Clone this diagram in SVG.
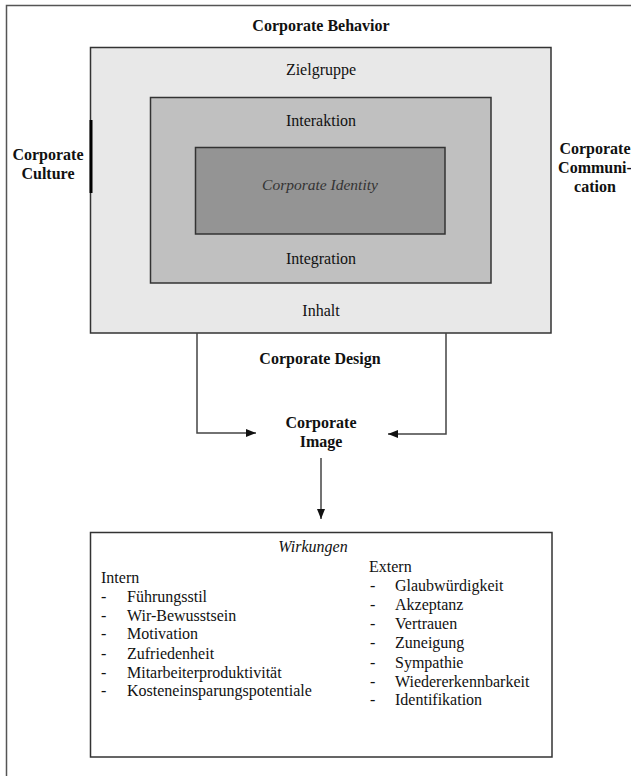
<svg xmlns="http://www.w3.org/2000/svg" width="631" height="776" viewBox="0 0 631 776">
<style>
text{font-family:"Liberation Serif","Times New Roman",serif;font-size:16px;fill:#111}
.b{font-weight:bold}
.i{font-style:italic}
.m{text-anchor:middle}
.box{stroke:#333;stroke-width:1.5}
.ln{stroke:#444;stroke-width:1.5;fill:none}
</style>
<defs>
<marker id="ah" viewBox="0 0 10 8" refX="10" refY="4" markerWidth="10" markerHeight="8" markerUnits="userSpaceOnUse" orient="auto">
<path d="M0,0 L10,4 L0,8 Z" fill="#111"/>
</marker>
</defs>
<rect width="631" height="776" fill="#fff"/>
<g id="frame">
<path d="M6.5,776 V5.5 H631" fill="none" stroke="#555" stroke-width="1.5"/>
</g>
<g id="labels">
<text class="b m" x="321" y="31">Corporate Behavior</text>
<text class="b m" x="48" y="160">Corporate</text>
<text class="b m" x="48" y="179">Culture</text>
<text class="b m" x="595" y="154">Corporate</text>
<text class="b m" x="595" y="173">Communi-</text>
<text class="b m" x="595" y="192">cation</text>
</g>
<g id="outer">
<rect class="box" x="90.5" y="47.5" width="460.5" height="285.5" fill="#e8e8e8"/>
<line x1="91" y1="120" x2="91" y2="193" stroke="#000" stroke-width="3"/>
<text class="m" x="321" y="75">Zielgruppe</text>
<text class="m" x="321" y="316">Inhalt</text>
</g>
<g id="middle">
<rect class="box" x="150.5" y="97.5" width="340.5" height="185.5" fill="#c0c0c0"/>
<text class="m" x="321" y="126">Interaktion</text>
<text class="m" x="321" y="264">Integration</text>
</g>
<g id="identity">
<rect class="box" x="195.5" y="147.5" width="249.5" height="86.5" fill="#949494"/>
<text class="i m" x="320" y="190" style="fill:#333;font-size:15.5px">Corporate Identity</text>
</g>
<g id="design">
<text class="b m" x="320" y="364">Corporate Design</text>
</g>
<g id="image">
<text class="b m" x="321" y="428">Corporate</text>
<text class="b m" x="321" y="447">Image</text>
</g>
<g id="connectors">
<path class="ln" d="M197,333 V433 H256" marker-end="url(#ah)"/>
<path class="ln" d="M446,333 V434 H388" marker-end="url(#ah)"/>
<path class="ln" d="M321,458 V519" marker-end="url(#ah)"/>
</g>
<g id="wirkungen">
<rect class="box" x="90.5" y="532.5" width="461.5" height="224.5" fill="#fff"/>
<text class="i m" x="313" y="552">Wirkungen</text>
<text x="101" y="583">Intern</text>
<text x="101" y="602">-</text><text x="127" y="602">Führungsstil</text>
<text x="101" y="621">-</text><text x="127" y="621">Wir-Bewusstsein</text>
<text x="101" y="639">-</text><text x="127" y="639">Motivation</text>
<text x="101" y="659">-</text><text x="127" y="659">Zufriedenheit</text>
<text x="101" y="678">-</text><text x="127" y="678">Mitarbeiterproduktivität</text>
<text x="101" y="696">-</text><text x="127" y="696">Kosteneinsparungspotentiale</text>
<text x="369" y="572">Extern</text>
<text x="370" y="591">-</text><text x="395" y="591">Glaubwürdigkeit</text>
<text x="370" y="610">-</text><text x="395" y="610">Akzeptanz</text>
<text x="370" y="629">-</text><text x="395" y="629">Vertrauen</text>
<text x="370" y="648">-</text><text x="395" y="648">Zuneigung</text>
<text x="370" y="668">-</text><text x="395" y="668">Sympathie</text>
<text x="370" y="687">-</text><text x="395" y="687">Wiedererkennbarkeit</text>
<text x="370" y="705">-</text><text x="395" y="705">Identifikation</text>
</g>
</svg>
